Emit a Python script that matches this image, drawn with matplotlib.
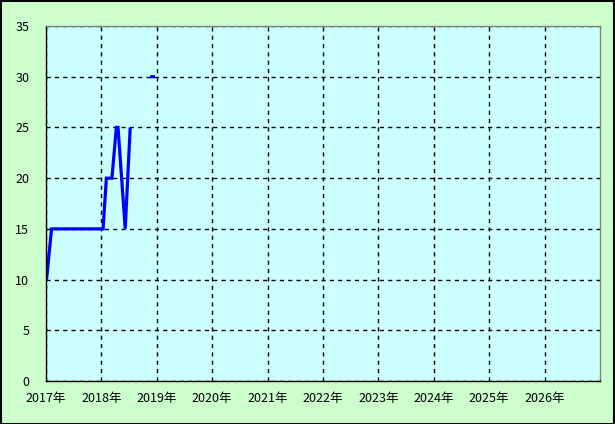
import numpy as np
import matplotlib.pyplot as plt
from matplotlib.patches import Rectangle

plt.rcParams['font.family'] = ['Noto Sans CJK JP', 'DejaVu Sans']

# data (fractional year, value); NaN breaks the line
t = [2017.01, 2017.10, 2018.03, 2018.09, 2018.19, 2018.27, 2018.30, 2018.43, 2018.52, np.nan, 2018.88, 2018.97]
v = [10, 15, 15, 20, 20, 25, 25, 15, 25, np.nan, 30, 30]
years = list(range(2017, 2027))
year_labels = [str(y) + '年' for y in years]
yticks = [0, 5, 10, 15, 20, 25, 30, 35]

fig = plt.figure(figsize=(6.15, 4.24), dpi=100)
fig.patch.set_facecolor('#ccffcc')
ax = fig.add_axes([46/615, 43/424, 554/615, 355/424])
ax.set_facecolor('#ccffff')

ax.plot(t, v, color='#0000ff', lw=2.3, solid_capstyle='butt', solid_joinstyle='miter')

ax.set_xlim(2017, 2027)
ax.set_ylim(0, 35)
ax.set_xticks(years)
ax.set_xticklabels(year_labels, fontsize=9)
ax.set_yticks(yticks)
ax.set_yticklabels([str(y) for y in yticks], fontsize=9)
ax.tick_params(length=0)
ax.tick_params(axis='y', pad=12)
ax.tick_params(axis='x', pad=8)
ax.grid(True, color='black', ls=(0, (3, 3)), lw=1)

ax.spines['left'].set_color('black')
ax.spines['bottom'].set_color('black')
ax.spines['top'].set_color('#808080')
ax.spines['right'].set_color('#808080')
for s in ax.spines.values():
    s.set_linewidth(1.0)

# outer frame
fig.patches.append(Rectangle((0.001, 0.001), 0.997, 0.996, transform=fig.transFigure,
                             fill=False, ec='black', lw=1.5))

fig.savefig('out.png', dpi=100, facecolor=fig.get_facecolor())
